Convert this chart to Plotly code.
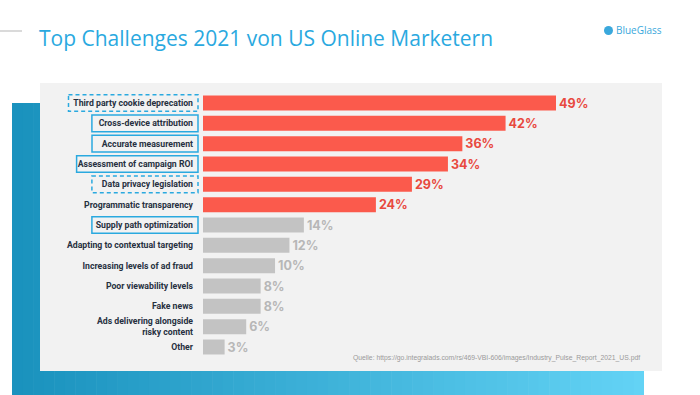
import plotly.graph_objects as go

# ---------------- data ----------------
categories = [
    "Third party cookie deprecation",
    "Cross-device attribution",
    "Accurate measurement",
    "Assessment of campaign ROI",
    "Data privacy legislation",
    "Programmatic transparency",
    "Supply path optimization",
    "Adapting to contextual targeting",
    "Increasing levels of ad fraud",
    "Poor viewability levels",
    "Fake news",
    "Ads delivering alongside<br>risky content",
    "Other",
]
values = [49, 42, 36, 34, 29, 24, 14, 12, 10, 8, 8, 6, 3]
highlight_top = 6  # first six are highlighted in red
boxed_solid = ["Cross-device attribution", "Accurate measurement",
               "Assessment of campaign ROI", "Supply path optimization"]
boxed_dashed = ["Third party cookie deprecation", "Data privacy legislation"]

title_text = "Top Challenges 2021 von US Online Marketern"
source_text = "Quelle: https://go.integralads.com/rs/469-VBI-606/images/Industry_Pulse_Report_2021_US.pdf"
logo_text = "BlueGlass"

# ---------------- styling ----------------
W, H = 700, 395
RED, GRAY = "#fb5a4c", "#c3c3c3"
RED_TXT, GRAY_TXT = "#e8493e", "#b7b7b7"
BLUE = "#2aa9df"

bar_colors = [RED if i < highlight_top else GRAY for i in range(len(values))]
txt_colors = [RED_TXT if i < highlight_top else GRAY_TXT for i in range(len(values))]


def px(x):
    return x / W


def py(y):
    return 1 - y / H


fig = go.Figure()
fig.add_trace(go.Bar(
    x=values, y=categories, orientation="h",
    marker=dict(color=bar_colors, line=dict(width=0)),
    text=[f"{v}%" for v in values], textposition="outside",
    textfont=dict(family="Inter", size=17.5, color=txt_colors, weight=700),
    cliponaxis=False, hoverinfo="skip",
))

shapes = []
# gradient blue block behind panel
n = 60
x0b, x1b = 12, 644
c0 = (0x1a, 0x92, 0xbe)
c1 = (0x63, 0xd3, 0xf5)
for i in range(n):
    t = i / (n - 1)
    col = "rgb(%d,%d,%d)" % tuple(int(a + (b - a) * t) for a, b in zip(c0, c1))
    xa = x0b + (x1b - x0b) * i / n
    xb = x0b + (x1b - x0b) * (i + 1) / n + 0.6
    shapes.append(dict(type="rect", xref="paper", yref="paper", layer="below",
                       x0=px(xa), x1=px(min(xb, x1b)), y0=py(395), y1=py(103),
                       fillcolor=col, line=dict(width=0)))
# light gray panel
shapes.append(dict(type="rect", xref="paper", yref="paper", layer="below",
                   x0=px(40), x1=px(662), y0=py(371), y1=py(83),
                   fillcolor="#f2f2f2", line=dict(width=0)))
# small line left of title
shapes.append(dict(type="line", xref="paper", yref="paper",
                   x0=px(0), x1=px(22), y0=py(31), y1=py(31),
                   line=dict(color="#b5b5b5", width=1)))
# logo circle
shapes.append(dict(type="circle", xref="paper", yref="paper",
                   x0=px(604), x1=px(613), y0=py(35), y1=py(26),
                   fillcolor="#3aa8dc", line=dict(width=0)))


def label_width(s):
    caps = sum(1 for c in s if c.isupper())
    return max(106, 3.9 * len(s) + 2.5 * caps + 10)


for i, cat in enumerate(categories):
    if cat in boxed_solid or cat in boxed_dashed:
        w = label_width(cat)
        shapes.append(dict(type="rect", xref="paper", yref="y",
                           x0=px(198 - w), x1=px(198), y0=i - 0.41, y1=i + 0.41,
                           line=dict(color=BLUE, width=1.5,
                                     dash="4px,3px" if cat in boxed_dashed else "solid")))

annotations = [
    dict(text=title_text, xref="paper", yref="paper", x=px(37), y=py(38),
         xanchor="left", yanchor="middle", showarrow=False,
         font=dict(family="Open Sans", size=21, color=BLUE)),
    dict(text=logo_text, xref="paper", yref="paper", x=px(614), y=py(30.5),
         xanchor="left", yanchor="middle", showarrow=False,
         font=dict(family="Open Sans", size=10, color="#3aa8dc")),
    dict(text=source_text, xref="paper", yref="paper", x=px(642), y=py(358),
         xanchor="right", yanchor="middle", showarrow=False,
         font=dict(family="Liberation Sans", size=6.8, color="#9a9a9a")),
]

# rows: centres from y=103 to y=347
row_h = (347 - 103) / (len(categories) - 1)
top_edge = 103 - row_h / 2
bot_edge = 347 + row_h / 2
scale = (556 - 203) / 49.0  # px per percentage point

fig.update_layout(
    width=W, height=H, margin=dict(l=0, r=0, t=0, b=0),
    paper_bgcolor="white", plot_bgcolor="rgba(0,0,0,0)",
    showlegend=False, bargap=0.26,
    shapes=shapes, annotations=annotations,
    xaxis=dict(domain=[px(203), px(662)], range=[0, (662 - 203) / scale],
               visible=False, fixedrange=True),
    yaxis=dict(domain=[py(bot_edge), py(top_edge)], autorange="reversed",
               showgrid=False, zeroline=False, showline=False, ticks="",
               ticklabelstandoff=9, fixedrange=True,
               tickfont=dict(family="Roboto", size=8.7, color="#27303f", weight=700)),
)

fig.write_html("out.html", config={"displayModeBar": False},
               post_script="document.body.style.margin='0';document.body.style.overflow='hidden';")
